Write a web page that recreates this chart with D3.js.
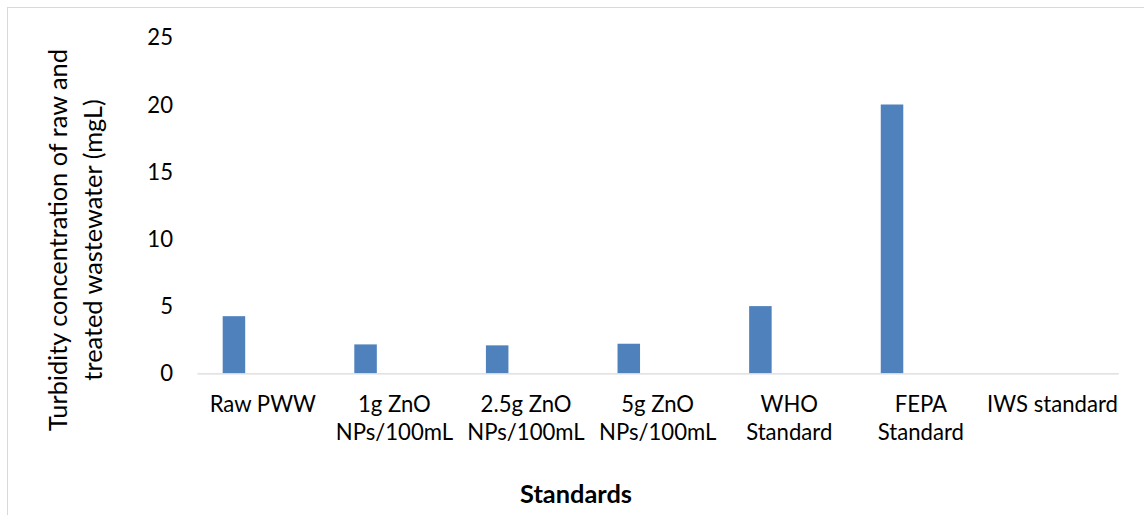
<!DOCTYPE html>
<html>
<head>
<meta charset="utf-8">
<script src="https://cdn.jsdelivr.net/npm/d3@7/dist/d3.min.js"></script>
<style>
  html, body { margin: 0; padding: 0; background: #fff; }
  svg { display: block; }
  text { font-family: Lato, "Open Sans", sans-serif; fill: #000; }
</style>
</head>
<body>
<svg id="chart" width="1144" height="515"></svg>
<script>
// ---- data ----
const categories = ["Raw PWW", "1g ZnO NPs/100mL", "2.5g ZnO NPs/100mL", "5g ZnO NPs/100mL", "WHO Standard", "FEPA Standard", "IWS standard"];
const categoryLines = [["Raw PWW"], ["1g ZnO", "NPs/100mL"], ["2.5g ZnO", "NPs/100mL"], ["5g ZnO", "NPs/100mL"], ["WHO", "Standard"], ["FEPA", "Standard"], ["IWS standard"]];
const seriesNames = ["Turbidity", "Series 2"];
const turbidity = [4.25, 2.15, 2.08, 2.2, 5, 20, null];
const yTicks = [0, 5, 10, 15, 20, 25];
const yTitleLines = ["Turbidity concentration of raw and", "treated wastewater (mgL)"];
const xTitle = "Standards";

// ---- layout ----
const W = 1144, H = 515;
const plot = { left: 197, right: 1118.3, top: 37.3, bottom: 373.3 };
const svg = d3.select("#chart");

// chart-area border
svg.append("rect")
  .attr("x", 7.5).attr("y", 7.5)
  .attr("width", W + 20).attr("height", H + 20)
  .attr("fill", "none").attr("stroke", "#d9d9d9").attr("stroke-width", 1);

const x = d3.scaleBand().domain(categories).range([plot.left, plot.right]).padding(0);
const inner = d3.scaleBand().domain(seriesNames).range([0, x.bandwidth()])
  .paddingInner(0.61).paddingOuter(0.445);
const y = d3.scaleLinear().domain([0, 25]).range([plot.bottom, plot.top]);

// fit a font size so that a sample string reaches a target width
function fitSize(sample, target, weight) {
  const t = svg.append("text").text(sample).style("font-size", "20px")
    .style("font-weight", weight || "normal");
  const w = t.node().getComputedTextLength();
  t.remove();
  return 20 * target / w;
}
const catSize = fitSize("IWS standard", 131);
const tickSize = catSize;
const yTitleSize = fitSize(yTitleLines[0], 382);
const xTitleSize = fitSize(xTitle, 112, "bold");

// bars
svg.append("g").selectAll("rect")
  .data(categories.map((c, i) => ({ c, v: turbidity[i] })).filter(d => d.v != null))
  .join("rect")
  .attr("x", d => x(d.c) + inner(seriesNames[0]))
  .attr("width", inner.bandwidth())
  .attr("y", d => y(d.v))
  .attr("height", d => y(0) - y(d.v))
  .attr("fill", "#4f81bd");

// baseline (category axis)
const xAxis = d3.axisBottom(x).tickSize(0).tickFormat("");
const xg = svg.append("g").attr("transform", `translate(0,${y(0)})`).call(xAxis);
xg.select(".domain").attr("stroke", "#d9d9d9").attr("stroke-width", 1.3);

// category labels
const catG = svg.append("g");
categories.forEach((c, i) => {
  const t = catG.append("text")
    .attr("x", x(c) + x.bandwidth() / 2)
    .attr("y", 411.5)
    .attr("text-anchor", "middle")
    .style("font-size", catSize + "px");
  categoryLines[i].forEach((ln, j) => {
    t.append("tspan").attr("x", x(c) + x.bandwidth() / 2).attr("dy", j === 0 ? 0 : 28.5).text(ln);
  });
});

// value axis labels (no line, no ticks)
const yAxis = d3.axisLeft(y).tickValues(yTicks).tickSize(0).tickPadding(0);
const yg = svg.append("g").attr("transform", `translate(173,0)`).call(yAxis);
yg.select(".domain").remove();
yg.selectAll("text")
  .attr("x", 0)
  .attr("dy", "0.34em")
  .style("font-family", "Lato, 'Open Sans', sans-serif")
  .style("font-size", tickSize + "px")
  .attr("fill", "#000");

// y title
const yt = svg.append("text")
  .attr("transform", "translate(67,240) rotate(-90)")
  .attr("text-anchor", "middle")
  .style("font-size", yTitleSize + "px");
yTitleLines.forEach((ln, j) => {
  yt.append("tspan").attr("x", 0).attr("y", j * 35).text(ln);
});

// x title
svg.append("text")
  .attr("x", 576).attr("y", 503)
  .attr("text-anchor", "middle")
  .style("font-size", xTitleSize + "px")
  .style("font-weight", "bold")
  .text(xTitle);
</script>
</body>
</html>
